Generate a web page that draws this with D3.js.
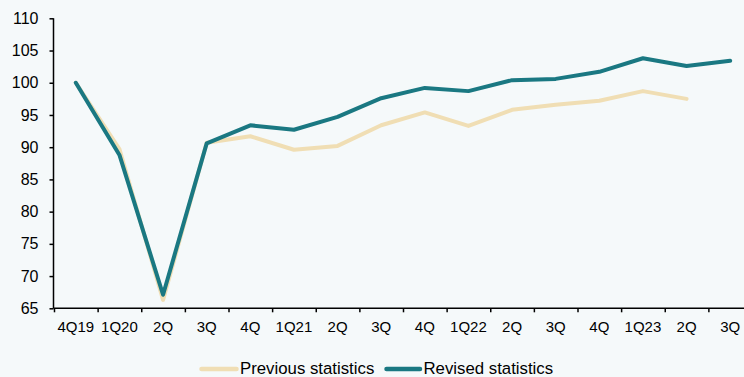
<!DOCTYPE html>
<html>
<head>
<meta charset="utf-8">
<script src="https://cdn.jsdelivr.net/npm/d3@7"></script>
<style>
  html, body { margin: 0; padding: 0; background: #f5f9fa; }
  svg { display: block; font-family: "Liberation Sans", Arial, sans-serif; }
</style>
</head>
<body>
<svg id="chart" width="744" height="377"></svg>
<script>
// Quarter labels along the x axis
const quarters = ["4Q19", "1Q20", "2Q", "3Q", "4Q", "1Q21", "2Q", "3Q", "4Q",
                  "1Q22", "2Q", "3Q", "4Q", "1Q23", "2Q", "3Q"];

// Index level, 4Q19 = 100
const previousStats = [100, 89.7, 66.3, 90.7, 91.7, 89.6, 90.2, 93.4, 95.4,
                       93.3, 95.8, 96.6, 97.2, 98.7, 97.5, null];
const revisedStats  = [100, 88.8, 67.1, 90.6, 93.4, 92.7, 94.7, 97.6, 99.2,
                       98.7, 100.4, 100.6, 101.7, 103.8, 102.6, 103.4];

const yTicks = [65, 70, 75, 80, 85, 90, 95, 100, 105, 110];

const seriesNames = ["Previous statistics", "Revised statistics"];
const seriesColors = ["#f0deb4", "#1a7882"];

const svg = d3.select("#chart");

const plotLeft = 53.5, plotRight = 752, plotTop = 18.3, plotBottom = 308.3;

const x = d3.scaleBand()
  .domain(d3.range(quarters.length))
  .range([54, plotRight])
  .padding(0);

const y = d3.scaleLinear()
  .domain([65, 110])
  .range([plotBottom, plotTop]);

// Lines
const line = d3.line()
  .defined(d => d != null)
  .x((d, i) => x(i) + x.bandwidth() / 2)
  .y(d => y(d));

[previousStats, revisedStats].forEach((series, k) => {
  svg.append("path")
    .datum(series)
    .attr("fill", "none")
    .attr("stroke", seriesColors[k])
    .attr("stroke-width", 4)
    .attr("stroke-linejoin", "round")
    .attr("stroke-linecap", "round")
    .attr("d", line);
});

// Y axis
const yAxis = svg.append("g")
  .attr("transform", `translate(${plotLeft},0)`)
  .call(d3.axisLeft(y).tickValues(yTicks).tickSize(4).tickPadding(11).tickFormat(d3.format("d")));
yAxis.select(".domain").attr("d", `M-0,${plotTop}V${plotBottom}`).attr("stroke", "#000").attr("stroke-width", 1.5);
yAxis.selectAll(".tick line").attr("stroke", "#000").attr("stroke-width", 1.5);
yAxis.selectAll(".tick text").attr("font-size", 16).attr("fill", "#000");

// X axis: tick marks on quarter boundaries
const xb = d3.scaleLinear().domain([0, quarters.length]).range([54, plotRight]);
const xTickAxis = svg.append("g")
  .attr("transform", `translate(0,${plotBottom})`)
  .call(d3.axisBottom(xb).tickValues(d3.range(quarters.length + 1)).tickSize(4).tickFormat(""));
xTickAxis.select(".domain").attr("d", `M${plotLeft},0H${plotRight}`).attr("stroke", "#000").attr("stroke-width", 1.5);
xTickAxis.selectAll(".tick line").attr("stroke", "#000").attr("stroke-width", 1.5);

// X axis labels centred on each quarter
const xLabelAxis = svg.append("g")
  .attr("transform", `translate(0,${plotBottom})`)
  .call(d3.axisBottom(x).tickSize(0).tickPadding(13).tickFormat(i => quarters[i]));
xLabelAxis.select(".domain").remove();
xLabelAxis.selectAll(".tick text").attr("font-size", 15).attr("fill", "#000");

// Legend
const legend = svg.append("g").attr("transform", "translate(0,369)");
const legendItems = [
  { x0: 201.5, x1: 236.5, tx: 240 },
  { x0: 386.5, x1: 420, tx: 423.5 }
];
legendItems.forEach((it, k) => {
  legend.append("line")
    .attr("x1", it.x0).attr("x2", it.x1)
    .attr("y1", 0).attr("y2", 0)
    .attr("stroke", seriesColors[k])
    .attr("stroke-width", 4.5)
    .attr("stroke-linecap", "round");
  legend.append("text")
    .attr("x", it.tx).attr("y", 4.5)
    .attr("font-size", 16.8)
    .attr("fill", "#000")
    .text(seriesNames[k]);
});
</script>
</body>
</html>
